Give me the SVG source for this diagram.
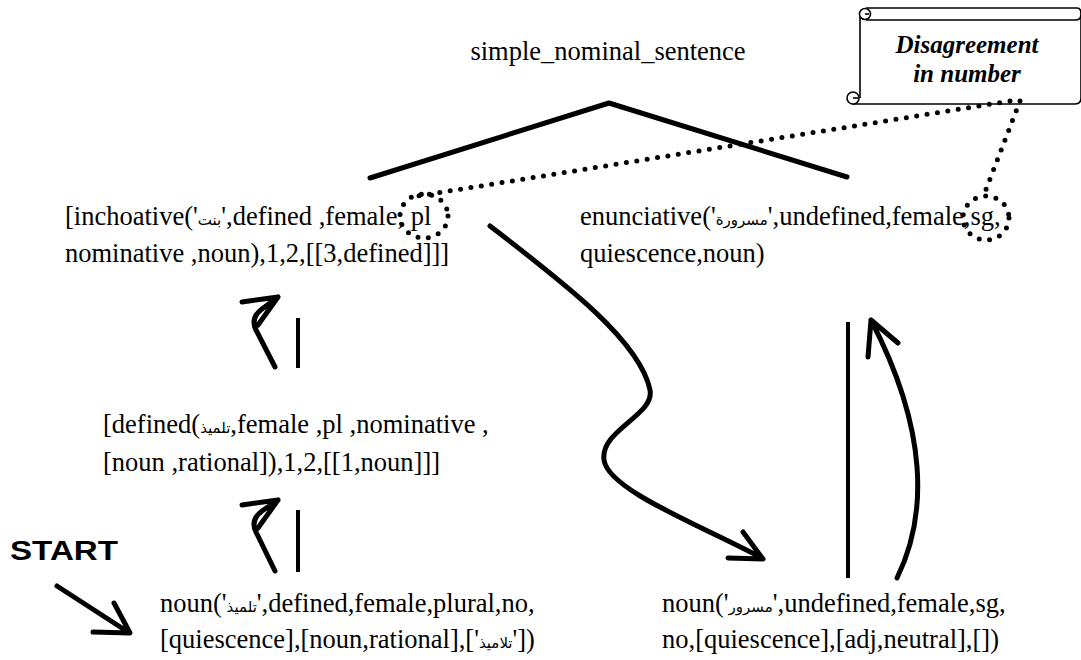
<svg xmlns="http://www.w3.org/2000/svg" width="1081" height="660" viewBox="0 0 1081 660">
<style>
.t{font-family:"Liberation Serif","Times New Roman","DejaVu Serif",serif;font-size:26.5px;fill:#000}
.ar{font-family:"DejaVu Sans","Noto Sans",sans-serif;font-size:15px}
.sct{font-family:"Liberation Serif","Times New Roman","DejaVu Serif",serif;font-size:25px;font-weight:bold;font-style:italic}
.ln{fill:none;stroke:#000;stroke-width:5;stroke-linecap:round;stroke-linejoin:round}
.ln4{fill:none;stroke:#000;stroke-width:4;stroke-linecap:butt}
.dot{fill:none;stroke:#000;stroke-width:5;stroke-linecap:round;stroke-dasharray:0 10.5}
.sc{fill:#fff;stroke:#000;stroke-width:1.6}
</style>
<rect width="1081" height="660" fill="#fff"/>
<g id="title">
<text class="t" x="608" y="60" text-anchor="middle">simple_nominal_sentence</text>
</g>
<g id="scroll">
<path class="sc" d="M860,14 H1076 Q1081,14 1081,19 V98 Q1081,104 1075,104 H852"/>
<path class="sc" d="M866,8 H1077 Q1081,8 1081,14 Q1081,20 1076,20 H866"/>
<path class="sc" d="M860,14 V98"/>
<circle class="sc" cx="865" cy="14" r="5.5"/>
<path class="sc" d="M865,14 h4"/>
<circle class="sc" cx="853" cy="98" r="6"/>
<path class="sc" d="M853,98 h5"/>
<text class="sct" x="967" y="53" text-anchor="middle">Disagreement</text>
<text class="sct" x="967" y="82" text-anchor="middle">in number</text>
</g>
<g id="inchoative">
<text class="t" x="65" y="225">[inchoative('<tspan class="ar">بنت</tspan>',defined ,female, pl</text>
<text class="t" x="65" y="262">nominative ,noun),1,2,[[3,defined]]]</text>
</g>
<g id="enunciative">
<text class="t" x="580" y="225">enunciative('<tspan class="ar">مسرورة</tspan>',undefined,female,sg,</text>
<text class="t" x="580" y="262">quiescence,noun)</text>
</g>
<g id="defined">
<text class="t" x="103" y="433">[defined(<tspan class="ar">تلميذ</tspan>,female ,pl ,nominative ,</text>
<text class="t" x="103" y="471">[noun ,rational]),1,2,[[1,noun]]]</text>
</g>
<g id="noun_left">
<text class="t" x="160" y="612">noun('<tspan class="ar">تلميذ</tspan>',defined,female,plural,no,</text>
<text class="t" x="160" y="648">[quiescence],[noun,rational],['<tspan class="ar">تلاميذ</tspan>'])</text>
</g>
<g id="noun_right">
<text class="t" x="662" y="612">noun('<tspan class="ar">مسرور</tspan>',undefined,female,sg,</text>
<text class="t" x="662" y="648">no,[quiescence],[adj,neutral],[])</text>
</g>
<g id="start">
<text x="10" y="560" textLength="108" lengthAdjust="spacingAndGlyphs" style="font-family:'Liberation Sans',sans-serif;font-size:27px;font-weight:900">START</text>
</g>
<g id="connectors">
<path class="ln" d="M370,178 L609,103 L847,177"/>
<path class="dot" d="M1010,101 L412,197"/>
<path class="dot" d="M1020,101 L985,192"/>
<ellipse class="dot" cx="424" cy="216" rx="24" ry="22"/>
<ellipse class="dot" cx="986" cy="218" rx="23" ry="22"/>
<path class="ln4" d="M298,318 V368"/>
<path class="ln" d="M275,367 L256,330 Q250,318 262,309 L278,297 M242,302 L278,297 L258,325"/>
<path class="ln4" d="M298,510 V572"/>
<path class="ln" d="M275,571 L256,532 Q250,520 262,511 L278,500 M242,505 L278,500 L258,528"/>
<path class="ln" d="M490,226 C560,280 640,340 650,390 C655,415 600,430 604,460 C608,490 700,525 762,558 M743,532 L763,559 L728,558"/>
<path class="ln4" d="M848,322 V578"/>
<path class="ln" d="M897,578 C928,515 928,430 871,320 M868,357 L871,320 L898,343"/>
<path class="ln" d="M57,586 L128,632 M93,632 L130,633 L114,603"/>
</g>
</svg>
